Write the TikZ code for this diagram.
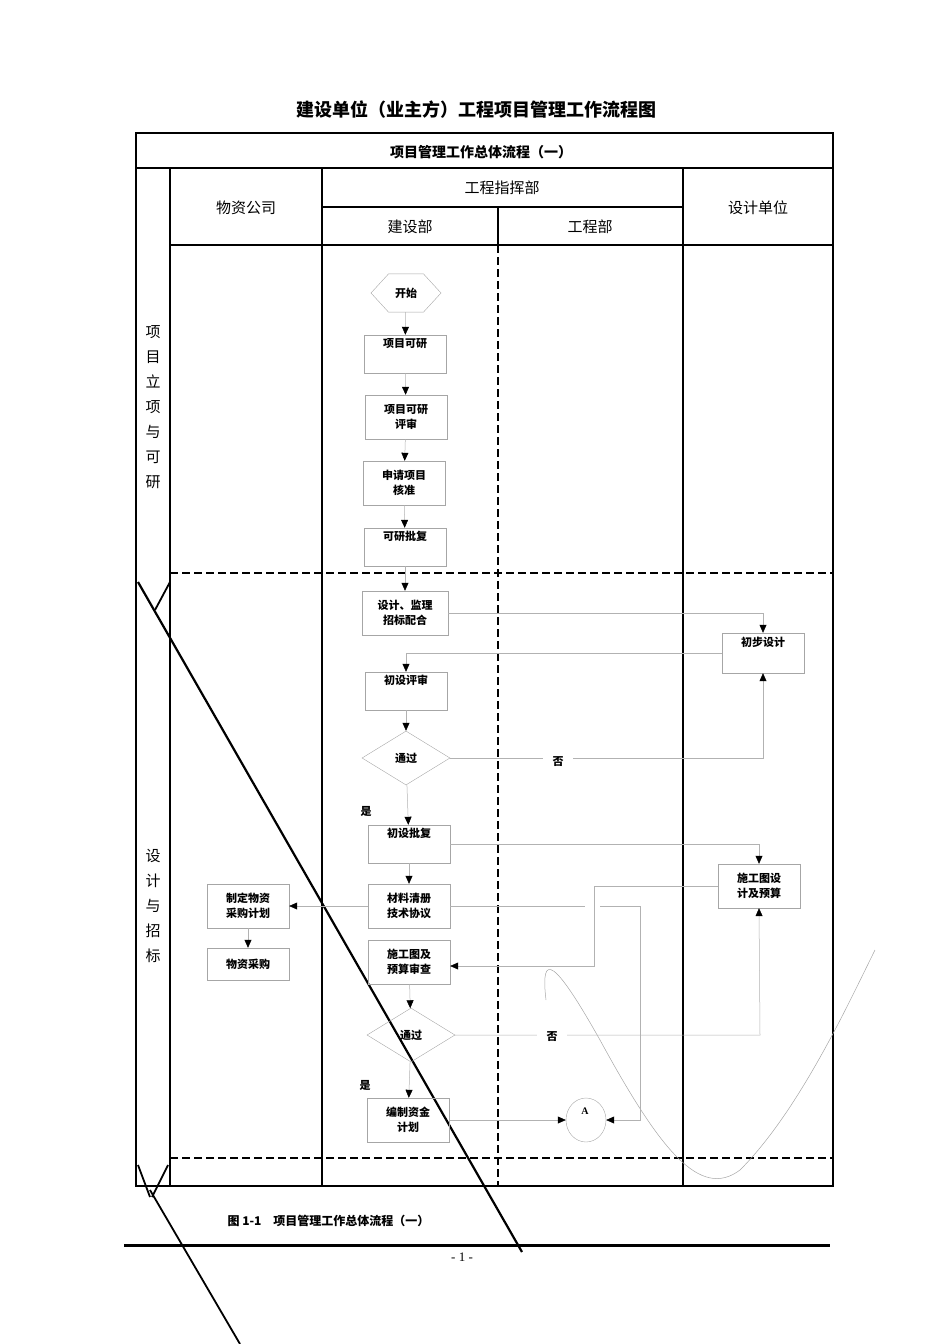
\documentclass[tikz,border=0pt]{standalone}
\usepackage{fontspec}
\setmainfont{Liberation Serif}
\newfontfamily\cjk{Noto Sans CJK SC}
\usetikzlibrary{shapes.geometric,arrows.meta}
\begin{document}
\begin{tikzpicture}[x=1pt,y=-1pt,
  box/.style={draw=gray!70,minimum width=82pt,minimum height=44pt,align=center,font=\cjk\fontsize{11}{15}\selectfont\bfseries,inner sep=1pt},
  dia/.style={diamond,draw=gray!70,minimum width=88pt,minimum height=54pt,aspect=1.6,inner sep=0pt,font=\cjk\fontsize{11}{12}\selectfont\bfseries},
  conn/.style={draw=gray!60,line width=0.5pt,-{Triangle[length=8pt,width=7pt,fill=black,color=black]}},
  plain/.style={draw=gray!60,line width=0.5pt},
  frame/.style={line width=1.8pt},
  dashline/.style={line width=1.8pt,dash pattern=on 8pt off 4pt},
  hdr/.style={font=\cjk\fontsize{15}{17}\selectfont},
  lbl/.style={font=\cjk\fontsize{11}{12}\selectfont\bfseries}]
\useasboundingbox (0,0) rectangle (950,1344);
\node[font=\cjk\fontsize{18}{20}\selectfont\bfseries] (title) at (476,110) {建设单位（业主方）工程项目管理工作流程图};
% frame
\draw[frame] (136,133) rectangle (833,1186);
\draw[frame] (136,168) -- (833,168);
\draw[frame] (170,168) -- (170,1186);
\draw[frame] (322,168) -- (322,1186);
\draw[frame] (683,168) -- (683,1186);
\draw[frame] (322,207) -- (683,207);
\draw[frame] (170,245) -- (833,245);
\draw[frame] (498,207) -- (498,245);
\draw[dashline] (498,245) -- (498,1186);
\draw[dashline] (170,573) -- (833,573);
\draw[dashline] (170,1158) -- (833,1158);
\node[font=\cjk\fontsize{14}{16}\selectfont\bfseries] (sub) at (481,152) {项目管理工作总体流程（一）};
\node[hdr] (h1) at (246,208) {物资公司};
\node[hdr] (h2) at (502,188) {工程指挥部};
\node[hdr] (h3) at (410,227) {建设部};
\node[hdr] (h4) at (590,227) {工程部};
\node[hdr] (h5) at (758,208) {设计单位};
\node[hdr,align=center,font=\cjk\fontsize{15}{25}\selectfont] (p1) at (153,407) {项\\目\\立\\项\\与\\可\\研};
\node[hdr,align=center,font=\cjk\fontsize{15}{25}\selectfont] (p2) at (153,906) {设\\计\\与\\招\\标};
% artifact strokes
\draw[line width=2.2pt] (138,582) -- (522,1252);
\draw[line width=1.8pt] (170,582) -- (155,610);
\draw[line width=1.8pt] (138,1165) -- (150,1197);
\draw[line width=1.8pt] (168,1165) -- (152,1197);
\draw[line width=1.8pt] (150,1190) -- (240,1344);
\draw[gray!70,line width=0.5pt] (546,1000) .. controls (540,950) and (555,960) .. (600,1040) .. controls (660,1150) and (700,1200) .. (740,1170) .. controls (800,1110) and (850,1000) .. (875,950);
% nodes
\node[draw=gray!70,regular polygon,regular polygon sides=6,minimum size=70pt,yscale=0.63,inner sep=0pt] (start) at (406,293) {};
\node[lbl] at (start) {开始};
\node[box,minimum height=38pt] (a1) at (405,354) {项目可研\\[8pt]};
\node[box] (a2) at (406,417) {项目可研\\评审};
\node[box] (a3) at (404,483) {申请项目\\核准};
\node[box,minimum height=38pt] (a4) at (405,547) {可研批复\\[8pt]};
\node[box,minimum width=86pt] (b1) at (405,613) {设计、监理\\招标配合};
\node[box,minimum height=40pt] (d1) at (763,653) {初步设计\\[8pt]};
\node[box,minimum height=38pt] (b2) at (406,691) {初设评审\\[8pt]};
\node[dia] (q1) at (406,758) {通过};
\node[box,minimum height=38pt] (b3) at (409,844) {初设批复\\[8pt]};
\node[box] (d2) at (759,886) {施工图设\\计及预算};
\node[box] (b4) at (409,906) {材料清册\\技术协议};
\node[box] (m1) at (248,906) {制定物资\\采购计划};
\node[box,minimum height=32pt] (m2) at (248,964) {物资采购};
\node[box] (b5) at (409,962) {施工图及\\预算审查};
\node[dia] (q2) at (411,1035) {通过};
\node[box] (b6) at (408,1120) {编制资金\\计划};
\node[draw=gray!70,ellipse,minimum width=40pt,minimum height=44pt,inner sep=0pt] (A) at (586,1120) {};
\node[font=\fontsize{10}{12}\selectfont\bfseries] at (585,1111) {A};
\node[lbl] (y1) at (366,811) {是};
\node[lbl] (y2) at (365,1085) {是};
% connectors
\draw[conn] (start) -- (a1);
\draw[conn] (a1) -- (a2);
\draw[conn] (a2) -- (a3);
\draw[conn] (a3) -- (a4);
\draw[conn] (a4) -- (b1);
\draw[conn] (b1.east) -- (d1.north |- b1.east) -- (d1.north);
\draw[conn] (d1.west) -- (b2.north |- d1.west) -- (b2.north);
\draw[conn] (b2) -- (q1);
\draw[conn] (q1.east) -- (d1.south |- q1.east) -- (d1.south);
\node[lbl,fill=white,minimum width=30pt,inner sep=2pt] (n1) at (558,762) {否};
\draw[conn] (q1) -- (b3);
\draw[conn] (b3.east) -- (d2.north |- b3.east) -- (d2.north);
\draw[conn] (b3) -- (b4);
\draw[conn] (b4) -- (m1);
\draw[conn] (m1) -- (m2);
\draw[conn] (d2.west) -- (594,886) -- (594,966) -- (b5.east |- 0,966);
\draw[plain] (b4.east) -- (585,906);
\draw[conn] (600,906) -- (640,906) -- (640,1120) -- (A.east);
\draw[conn] (b5) -- (q2);
\draw[conn] (q2.east) -- (760,1035) -- (d2.south);
\node[lbl,fill=white,minimum width=30pt,inner sep=2pt] (n2) at (552,1037) {否};
\draw[conn] (q2) -- (b6);
\draw[conn] (b6) -- (A);
% caption
\node[font=\cjk\fontsize{12}{14}\selectfont\bfseries,anchor=west] (cap) at (224,1221) {图 1-1\quad 项目管理工作总体流程（一）};
\draw[line width=3pt] (124,1245) -- (830,1245);
\node[font=\fontsize{13}{15}\selectfont] (pg) at (462,1257) {- 1 -};
\end{tikzpicture}
\end{document}
